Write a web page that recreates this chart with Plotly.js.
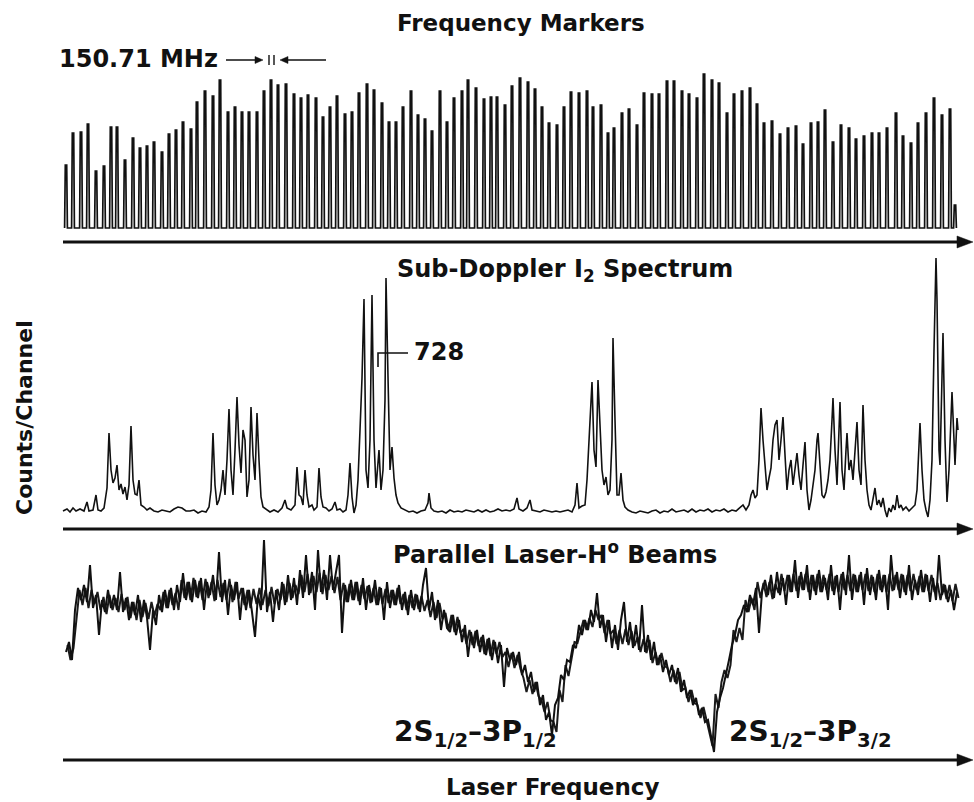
<!DOCTYPE html>
<html><head><meta charset="utf-8">
<script src="https://cdn.plot.ly/plotly-3.0.1.min.js"></script>
<style>html,body{margin:0;padding:0;background:#fff}#chart{width:974px;height:802px}</style>
</head><body><div id="chart"></div>
<script>
// ---- Frequency markers (channel of each marker peak, peak height) ----
const markerChannel = [66,73,81,88,96,104,111,117,125,133,140,147,154,162,169,176,183,191,197,205,213,220,228,235,242,249,257,264,271,278,286,294,301,308,316,323,330,337,345,352,359,367,374,382,389,396,403,411,418,425,432,440,447,454,462,468,476,484,491,497,505,512,520,528,535,542,549,557,564,571,579,587,593,601,608,614,622,629,637,644,652,659,667,674,682,689,697,704,712,719,727,734,742,750,757,764,772,780,788,796,803,811,818,825,833,841,849,856,864,872,879,887,896,903,911,918,926,934,942,950,955];
const markerHeight = [77,109,110,118,71,76,115,115,82,104,94,96,100,90,108,112,120,113,140,151,146,162,130,135,130,130,130,151,162,157,158,148,144,147,144,125,135,146,128,130,149,158,152,139,120,120,135,151,127,123,111,151,120,144,151,162,154,143,145,145,137,156,164,160,153,135,119,117,135,150,149,151,135,137,109,114,129,133,117,149,148,148,161,161,151,148,144,168,162,159,129,148,151,154,138,119,121,108,114,116,98,119,120,132,100,117,114,103,106,109,109,114,129,106,99,119,129,144,127,133,37];
const markerBaseline = 14;

// ---- Sub-Doppler I2 spectrum (channel, counts) ----
const i2Channel = [
 63,67,70,73,76,80,84,87,89,93,
 96,98,101,104,107,109,111,113,115,117,
 119,121,123,125,127,129,131,133,135,137,
 139,141,144,147,150,154,158,162,166,170,
 174,178,182,186,190,194,198,202,206,209,
 211,213,215,217,219,221,223,225,227,229,
 231,233,235,237,239,241,243,245,247,249,
 251,253,255,257,259,261,263,266,270,274,
 278,282,285,287,291,295,297,299,301,303,
 305,307,309,312,314,317,319,321,323,326,
 329,332,335,337,340,343,346,348,350,352,
 354,356,358,360,362,364,366,368,370,372,
 374,376,378,379,381,383,385,386,388,390,
 392,394,396,398,401,405,409,413,417,421,
 425,428,429,431,434,438,442,446,450,454,
 458,462,466,470,474,478,482,486,490,494,
 498,502,506,510,514,517,519,523,527,530,
 532,536,540,544,548,552,556,560,564,568,
 572,575,577,579,582,585,587,589,590,592,
 594,596,598,600,602,604,606,608,610,612,
 613,615,617,619,621,623,625,628,632,636,
 640,644,648,652,656,660,664,668,672,676,
 680,684,688,692,696,700,704,708,712,716,
 720,724,728,732,736,740,743,746,749,751,
 753,755,757,759,761,763,765,767,769,771,
 773,775,777,779,781,783,785,787,789,791,
 793,795,797,799,801,803,805,807,809,811,
 813,815,817,818,820,822,824,826,828,830,
 832,833,835,837,839,840,842,844,846,847,
 849,851,853,855,857,859,861,863,865,867,
 869,871,873,875,877,879,881,883,885,887,
 889,891,893,895,897,899,901,903,906,909,
 912,915,917,919,920,922,924,926,928,930,
 932,934,936,937,939,940,942,943,945,947,
 949,951,952,954,955,957,958];
const i2Counts = [
 18,20,17,21,18,20,18,27,18,19,
 34,19,18,21,41,96,59,46,51,64,
 39,45,35,42,29,44,103,49,35,34,
 49,24,22,19,21,18,17,19,18,17,
 20,22,21,18,18,19,16,18,17,22,
 39,96,44,24,29,39,59,34,69,120,
 59,34,79,132,84,56,99,89,32,49,
 122,74,49,116,69,32,22,20,17,19,
 17,21,29,21,19,24,62,34,32,24,
 59,34,22,24,19,22,61,32,22,21,
 18,20,27,19,20,17,19,34,66,32,
 16,24,49,99,151,230,59,41,89,234,
 89,41,69,79,39,59,129,251,152,59,
 82,51,34,26,21,19,17,18,16,18,
 19,26,36,21,18,17,18,16,19,17,
 18,17,19,18,17,19,17,19,17,18,
 20,18,19,18,20,31,20,18,21,29,
 19,18,17,19,18,17,18,17,18,19,
 17,24,46,21,23,24,49,89,116,147,
 79,62,149,99,59,44,52,34,39,89,
 191,109,34,34,56,29,22,19,17,16,
 18,17,16,18,19,16,18,17,20,17,
 18,19,17,20,17,19,18,20,17,19,
 18,20,17,19,18,21,24,19,24,34,
 39,31,34,69,121,89,59,39,51,61,
 89,104,109,69,89,112,74,39,59,69,
 44,59,76,54,39,64,87,39,19,29,
 44,59,89,96,64,34,31,37,49,69,
 109,131,79,44,99,127,59,39,79,96,
 59,69,49,79,107,59,44,124,69,39,
 24,19,29,41,24,29,22,31,19,12,
 21,17,24,19,34,21,24,19,22,18,
 21,24,39,89,106,59,29,19,12,29,
 69,179,271,229,79,64,139,196,89,27,
 59,109,137,89,64,111,99];

// ---- Parallel laser-H beams signal (counts per channel, channel = index) ----
const beamCounts = [
 108,118,100,150,172,160,175,158,195,152,
 165,125,160,148,170,152,165,150,188,148,
 162,140,158,145,165,138,160,142,110,150,
 135,165,148,170,152,172,150,175,158,187,
 160,178,158,180,162,182,150,178,165,185,
 160,208,158,180,145,175,160,178,140,172,
 150,170,148,123,165,150,220,148,168,138,
 170,150,178,155,185,160,182,155,190,162,
 205,165,188,150,210,168,190,160,205,170,
 188,205,127,175,158,180,160,178,155,182,
 150,175,158,180,155,172,140,178,152,170,
 155,175,150,168,145,170,150,165,148,175,
 192,150,168,140,160,130,150,132,128,145,
 125,140,118,135,103,128,112,130,108,125,
 105,122,100,118,97,115,73,112,100,108,
 95,108,85,95,78,88,68,78,55,65,
 40,48,25,55,62,85,80,100,98,115,
 112,135,125,140,130,150,138,167,132,145,
 118,140,112,135,110,140,158,118,138,112,
 135,110,155,108,125,100,118,95,105,88,
 100,85,95,78,92,68,80,62,70,55,
 62,45,52,38,40,22,8,48,62,72,
 85,100,115,125,140,145,155,148,165,155,
 172,127,168,180,165,185,162,188,165,182,
 155,185,168,200,162,188,170,195,160,185,
 165,190,168,182,160,195,165,185,150,188,
 165,205,160,185,168,188,155,192,165,183,
 160,190,168,185,150,205,170,188,162,185,
 165,195,160,180,165,190,168,185,158,182,
 160,205,165,175,158,170,150,168];
// same signal read at the half channels in between (channel = index + 0.5)
const beamCountsHalf = [
 115,100,112,140,170,155,172,152,170,156,
 168,150,163,146,165,150,162,148,166,150,
 163,142,158,140,160,143,157,141,158,144,
 156,150,168,152,170,155,167,150,180,162,
 178,160,182,163,179,160,181,162,178,159,
 180,163,177,160,181,158,178,161,172,155,
 170,152,171,156,172,155,170,154,173,156,
 171,160,176,158,177,162,175,166,185,168,
 186,167,184,168,187,166,185,170,184,167,
 183,160,177,158,176,160,178,159,175,161,
 174,157,172,155,173,156,171,157,170,155,
 172,156,166,150,165,152,166,151,164,149,
 160,143,158,142,157,141,147,130,145,128,
 143,127,131,116,130,115,129,114,123,106,
 121,104,120,106,118,103,108,93,107,92,
 105,91,82,68,80,66,78,64,60,48,
 58,40,38,28,70,58,95,84,100,118,
 117,128,140,130,142,133,150,140,145,127,
 140,126,130,116,130,116,131,115,129,114,
 123,108,121,107,120,97,108,95,107,94,
 92,78,90,76,88,70,72,58,70,57,
 55,42,53,40,26,14,66,52,78,90,
 82,95,130,118,132,120,160,148,162,150,
 178,162,177,163,178,161,176,167,186,169,
 185,168,186,169,184,170,186,168,185,169,
 186,168,185,170,186,169,184,168,186,170,
 185,169,186,168,185,170,186,169,185,168,
 186,170,185,168,186,169,185,170,186,168,
 185,169,186,170,184,168,186,169,185,168,
 177,160,176,161,175,159,176,162];
const beamChannel = beamCounts.map((_, i) => i);
const beamChannelHalf = beamCountsHalf.map((_, i) => i + 0.5);

// marker peaks drawn as narrow spikes
const mx = [], my = [];
markerChannel.forEach((c, k) => {
  mx.push(c - 1.4, c - 0.7, c + 0.7, c + 1.4);
  my.push(markerBaseline, markerHeight[k], markerHeight[k], markerBaseline);
});

const traces = [
  {x: mx, y: my, xaxis: 'x', yaxis: 'y', type: 'scatter', mode: 'lines',
   line: {color: '#111', width: 1.7}, hoverinfo: 'skip'},
  {x: i2Channel, y: i2Counts, xaxis: 'x2', yaxis: 'y2', type: 'scatter', mode: 'lines',
   line: {color: '#111', width: 1.6}, hoverinfo: 'skip'},
  {x: beamChannelHalf, y: beamCountsHalf, xaxis: 'x3', yaxis: 'y3', type: 'scatter', mode: 'lines',
   line: {color: '#1a1a1a', width: 2.0}, hoverinfo: 'skip'},
  {x: beamChannel, y: beamCounts, xaxis: 'x3', yaxis: 'y3', type: 'scatter', mode: 'lines',
   line: {color: '#111', width: 2.0}, hoverinfo: 'skip'}
];

const H = 802, L = 60, PW = 900;
const py = p => 1 - p / H;
const px = p => (p - L) / PW;
const font = {family: 'DejaVu Sans', size: 23, color: '#111'};
const hidden = {visible: false, showgrid: false, zeroline: false, fixedrange: true};

function txt(text, x, y, xanchor, extra) {
  return Object.assign({text: text, x: px(x), y: py(y), xref: 'paper', yref: 'paper',
    xanchor: xanchor, yanchor: 'middle', showarrow: false, font: font}, extra || {});
}
const sized = s => ({font: Object.assign({}, font, {size: s})});

const annotations = [
  txt('<b>Frequency Markers</b>', 521, 23, 'center'),
  txt('<b>150.71 MHz</b>', 57, 59, 'left', sized(24)),
  txt('<b>Sub-Doppler I<sub>2</sub> Spectrum</b>', 565, 270, 'center', sized(24)),
  txt('<b>728</b>', 412, 352, 'left', sized(24)),
  txt('<b>Counts/Channel</b>', 25, 418, 'center', Object.assign({textangle: -90}, sized(22))),
  txt('<b>Parallel Laser-H<sup>o</sup> Beams</b>', 555, 553, 'center', sized(24)),
  txt('<b>2S<sub>1/2</sub>–3P<sub>1/2</sub></b>', 392, 733, 'left', sized(28)),
  txt('<b>2S<sub>1/2</sub>–3P<sub>3/2</sub></b>', 727, 733, 'left', sized(28)),
  txt('<b>Laser Frequency</b>', 552, 787, 'center')
];

function hArrow(x0, x1, y, w, head, half) {
  const dir = x1 > x0 ? 1 : -1;
  const base = x1 - dir * head;
  return [
    {type: 'line', xref: 'paper', yref: 'paper', x0: px(x0), x1: px(base + dir), y0: py(y), y1: py(y),
     line: {color: '#111', width: w}},
    {type: 'path', xref: 'paper', yref: 'paper', fillcolor: '#111', line: {color: '#111', width: 0.5},
     path: `M ${px(x1)} ${py(y)} L ${px(base)} ${py(y - half)} L ${px(base)} ${py(y + half)} Z`}
  ];
}

const shapes = [].concat(
  hArrow(63, 973, 242, 2.8, 16, 6),
  hArrow(63, 973, 529, 2.8, 16, 6),
  hArrow(63, 973, 760, 2.8, 16, 6),
  hArrow(226, 263, 60, 1.5, 8, 3.5),
  hArrow(326, 280, 60, 1.5, 8, 3.5),
  [
    {type: 'line', xref: 'paper', yref: 'paper', x0: px(269), x1: px(269), y0: py(55), y1: py(65), line: {color: '#111', width: 1.4}},
    {type: 'line', xref: 'paper', yref: 'paper', x0: px(274), x1: px(274), y0: py(55), y1: py(65), line: {color: '#111', width: 1.4}},
    {type: 'path', xref: 'paper', yref: 'paper',
     path: `M ${px(378)} ${py(367)} L ${px(378)} ${py(353)} L ${px(408)} ${py(353)}`,
     line: {color: '#111', width: 1.6}}
  ]
);

const layout = {
  width: 974, height: 802,
  margin: {l: L, r: 974 - L - PW, t: 0, b: 0},
  paper_bgcolor: '#fff', plot_bgcolor: '#fff', showlegend: false,
  xaxis: Object.assign({range: [60, 960], domain: [0, 1], anchor: 'y'}, hidden),
  yaxis: Object.assign({range: [0, 192], domain: [py(242), py(50)], anchor: 'x'}, hidden),
  xaxis2: Object.assign({range: [60, 960], domain: [0, 1], anchor: 'y2'}, hidden),
  yaxis2: Object.assign({range: [0, 279], domain: [py(529), py(250)], anchor: 'x2'}, hidden),
  xaxis3: Object.assign({range: [-2, 298], domain: [0, 1], anchor: 'y3'}, hidden),
  yaxis3: Object.assign({range: [0, 225], domain: [py(760), py(535)], anchor: 'x3'}, hidden),
  annotations: annotations, shapes: shapes
};

Plotly.newPlot('chart', traces, layout, {staticPlot: true, displayModeBar: false});
</script></body></html>
